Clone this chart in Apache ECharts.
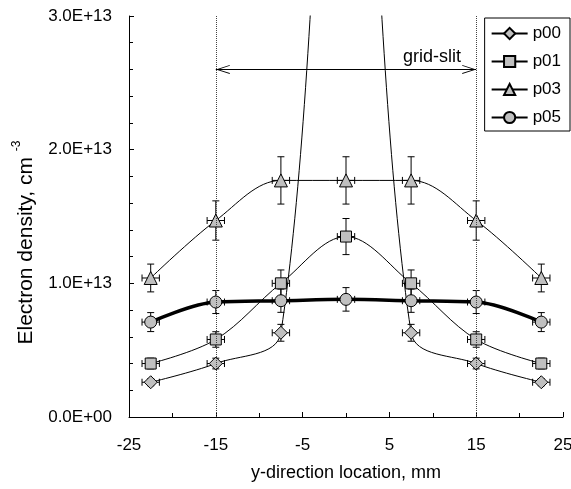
<!DOCTYPE html>
<html>
<head>
<meta charset="utf-8">
<script src="https://cdn.jsdelivr.net/npm/echarts@6.0.0/dist/echarts.min.js"></script>
<style>
  html, body { margin: 0; padding: 0; background: #fff; }
  #chart { width: 571px; height: 489px; }
</style>
</head>
<body>
<div id="chart"></div>
<script>
// positions across the slit, mm
const xPos = [-22.5, -15, -7.5, 0, 7.5, 15, 22.5]
// electron density, cm-3
const p00 = [2.6e12, 4.0e12, 6.3e12, 6.8e13, 6.3e12, 4.0e12, 2.6e12]
const p01 = [4.0e12, 5.8e12, 1.0e13, 1.35e13, 1.0e13, 5.8e12, 4.0e12]
const p03 = [1.04e13, 1.47e13, 1.77e13, 1.77e13, 1.77e13, 1.47e13, 1.04e13]
const p05 = [7.1e12, 8.6e12, 8.7e12, 8.8e12, 8.7e12, 8.6e12, 7.1e12]
const seriesNames = ['p00', 'p01', 'p03', 'p05']
const symbols = ['diamond', 'rect', 'triangle', 'circle']
// error bars: +-10 % in density, +-1 mm in position
const yErrFrac = 0.1
const xErr = 1
// slit edges and the arrow
const slitEdges = [-15, 15]
const arrowY = 2.6e13
const slitLabel = { x: 9.9, y: 2.695e13, text: 'grid-slit' }

const FONT = 'Arial, "Liberation Sans", sans-serif'
const GRAY = '#c0c0c0'

function expLabel(v) {
  if (v === 0) return '0.0E+00'
  const e = Math.floor(Math.log10(v) + 1e-9)
  const m = v / Math.pow(10, e)
  return m.toFixed(1) + 'E+' + String(e).padStart(2, '0')
}

function renderErr(params, api) {
  const x = api.value(0)
  const y = api.value(1)
  const dy = y * yErrFrac
  const top = api.coord([x, y + dy])
  const bot = api.coord([x, y - dy])
  const left = api.coord([x - xErr, y])
  const right = api.coord([x + xErr, y])
  const cap = 3.5
  const style = { stroke: '#000', lineWidth: 1, fill: null }
  const ln = (x1, y1, x2, y2) => ({ type: 'line', shape: { x1, y1, x2, y2 }, style })
  return {
    type: 'group',
    children: [
      ln(top[0], top[1], bot[0], bot[1]),
      ln(top[0] - cap, top[1], top[0] + cap, top[1]),
      ln(bot[0] - cap, bot[1], bot[0] + cap, bot[1]),
      ln(left[0], left[1], right[0], right[1]),
      ln(left[0], left[1] - cap, left[0], left[1] + cap),
      ln(right[0], right[1] - cap, right[0], right[1] + cap)
    ]
  }
}

const values = [p00, p01, p03, p05]
const sizes = [13, 11, 13, 12]
const series = []
values.forEach((vals, k) => {
  const pts = xPos.map((x, i) => [x, vals[i]])
  series.push({
    name: 'err' + k,
    type: 'custom',
    renderItem: renderErr,
    data: pts,
    encode: { x: 0, y: 1 },
    clip: true,
    z: 1,
    silent: true
  })
  series.push({
    name: seriesNames[k],
    type: 'line',
    data: pts,
    smooth: 0.35,
    clip: true,
    symbol: symbols[k],
    symbolSize: sizes[k],
    lineStyle: { color: '#000', width: k === 3 ? 3.5 : 1 },
    itemStyle: { color: GRAY, borderColor: '#000', borderWidth: 1 },
    z: 2
  })
})

// slit edges, arrow and label hang on the first line series
const chevron = 'path://M5,0 L5,0 Z M5,10 L10,20 L9,20 L5,12 L1,20 L0,20 Z'
series[1].markLine = {
  silent: true,
  animation: false,
  z: 5,
  label: { show: false },
  symbol: 'none',
  lineStyle: { color: '#000', width: 1, type: 'solid' },
  data: [
    [{ coord: [slitEdges[0], arrowY], symbol: chevron, symbolSize: [9, 28] },
     { coord: [slitEdges[1], arrowY], symbol: chevron, symbolSize: [9, 28] }],
    { xAxis: slitEdges[0], symbol: 'none', lineStyle: { type: [1, 1], color: '#444', width: 1 } },
    { xAxis: slitEdges[1], symbol: 'none', lineStyle: { type: [1, 1], color: '#444', width: 1 } }
  ]
}
series[1].markPoint = {
  silent: true,
  animation: false,
  symbol: 'circle',
  symbolSize: 0,
  data: [{ coord: [slitLabel.x, slitLabel.y] }],
  label: {
    show: true,
    position: 'inside',
    formatter: slitLabel.text,
    color: '#000',
    fontFamily: FONT,
    fontSize: 18
  }
}

const chart = echarts.init(document.getElementById('chart'))
chart.setOption({
  animation: false,
  backgroundColor: '#fff',
  grid: { left: 129, right: 8, top: 16, bottom: 72, containLabel: false, outerBoundsMode: 'none' },
  legend: {
    data: seriesNames,
    orient: 'vertical',
    right: 1,
    top: 18,
    padding: [7, 9, 5, 6],
    itemGap: 11,
    itemWidth: 36,
    itemHeight: 14,
    borderColor: '#000',
    borderWidth: 1,
    borderRadius: 0,
    textStyle: { color: '#000', fontFamily: FONT, fontSize: 17 }
  },
  xAxis: {
    type: 'value',
    min: -25,
    max: 25,
    interval: 10,
    name: 'y-direction location, mm',
    nameLocation: 'middle',
    nameGap: 47,
    nameTextStyle: { color: '#000', fontFamily: FONT, fontSize: 18 },
    axisLine: { show: true, onZero: false, lineStyle: { color: '#000', width: 1 } },
    axisTick: { show: true, inside: true, length: 5, lineStyle: { color: '#000' } },
    minorTick: { show: true, splitNumber: 2, length: 4, lineStyle: { color: '#000' } },
    axisLabel: { color: '#000', fontFamily: FONT, fontSize: 17, margin: 20 },
    splitLine: { show: false }
  },
  yAxis: {
    type: 'value',
    min: 0,
    max: 3e13,
    interval: 1e13,
    name: '{a|Electron density, cm }{b|-3}',
    nameLocation: 'middle',
    nameRotate: 90,
    nameGap: 88,
    nameTextStyle: {
      color: '#000',
      fontFamily: FONT,
      fontSize: 21,
      padding: [0, 52, 0, 0],
      rich: {
        a: { fontFamily: FONT, fontSize: 21, color: '#000', lineHeight: 30 },
        b: { fontFamily: FONT, fontSize: 12, color: '#000', lineHeight: 30, verticalAlign: 'top' }
      }
    },
    axisLine: { show: true, onZero: false, lineStyle: { color: '#000', width: 1 } },
    axisTick: { show: true, inside: true, length: 5, lineStyle: { color: '#000' } },
    minorTick: { show: true, splitNumber: 5, length: 4, lineStyle: { color: '#000' } },
    axisLabel: { color: '#000', fontFamily: FONT, fontSize: 17, margin: 17, formatter: expLabel },
    splitLine: { show: false }
  },
  series: series
})
</script>
</body>
</html>
